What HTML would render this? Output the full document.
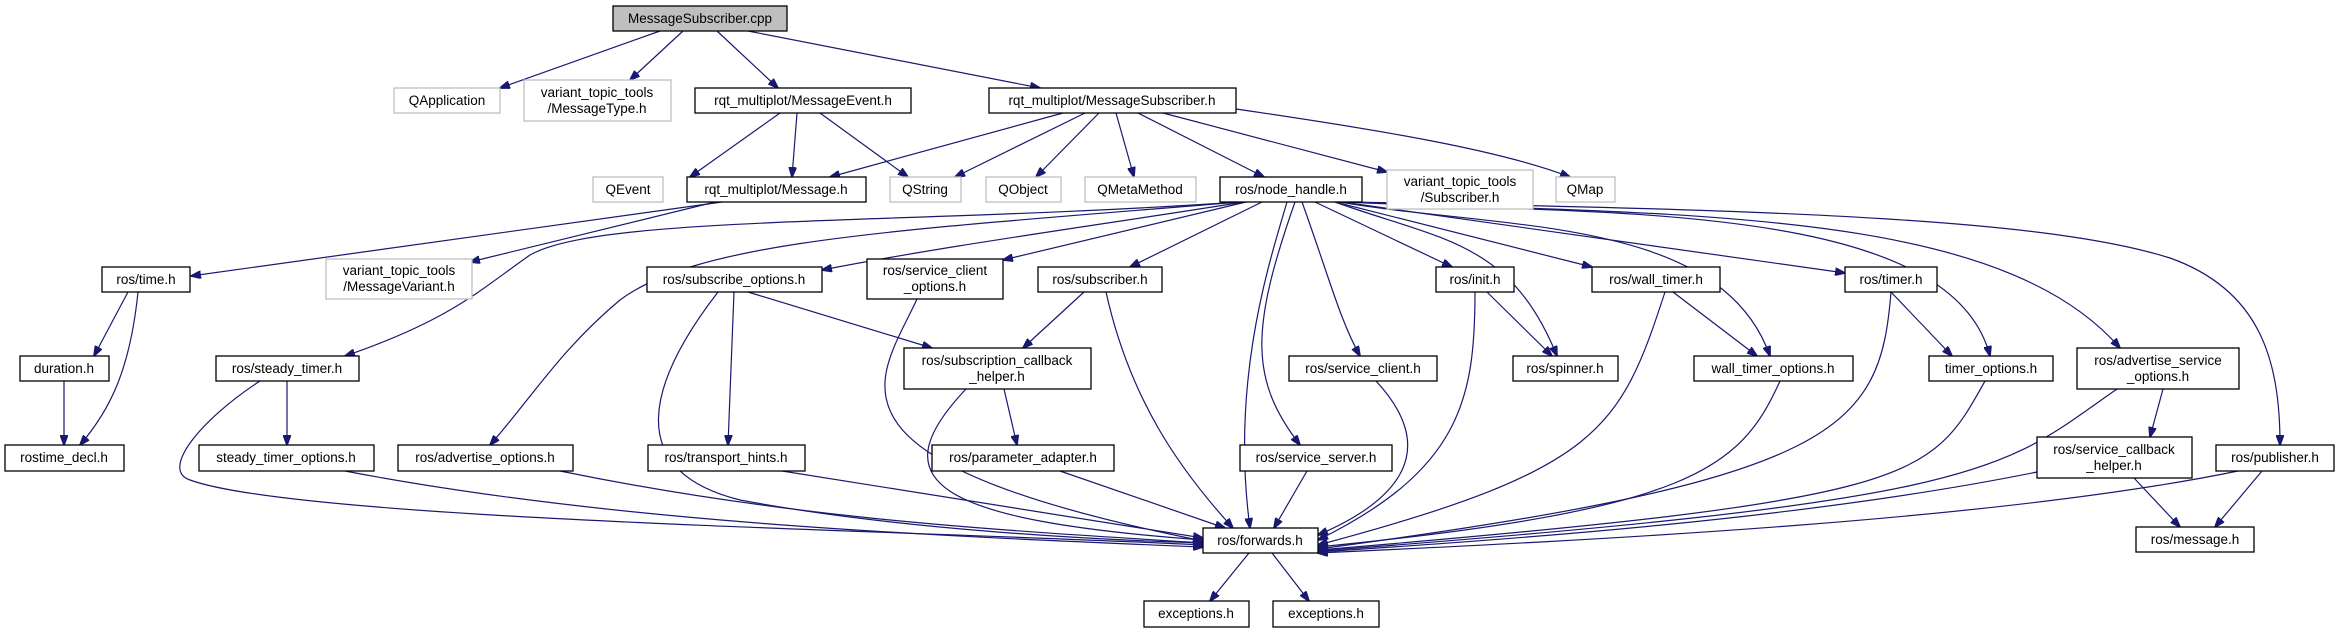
<!DOCTYPE html>
<html><head><meta charset="utf-8"><style>
html,body{margin:0;padding:0;background:#fff;}
svg{display:block;}
text{font-family:"Liberation Sans","DejaVu Sans",sans-serif;font-size:13.5px;fill:#000;text-anchor:middle;}
.n{fill:#fff;stroke:#000;stroke-width:1.3;}
.g{fill:#fff;stroke:#bfbfbf;stroke-width:1.3;}
.e{fill:none;stroke:#191970;stroke-width:1.2;}
</style></head><body>
<svg width="2339" height="633" viewBox="0 0 2339 633" xmlns="http://www.w3.org/2000/svg">
<defs><marker id="a" markerWidth="11" markerHeight="8" refX="10" refY="4" orient="auto" markerUnits="userSpaceOnUse"><path d="M0,0 L11,4 L0,8 z" fill="#191970" stroke="#191970"/></marker></defs>
<g class="e" marker-end="url(#a)">
<path d="M660,31 L500,88"/>
<path d="M683,31 L630,80"/>
<path d="M717,31 L778,88"/>
<path d="M748,31 L1040,88"/>
<path d="M780,113 L690,177"/>
<path d="M797,113 L792,177"/>
<path d="M820,113 L908,177"/>
<path d="M1063,113 L830,177"/>
<path d="M1085,113 L955,177"/>
<path d="M1099,113 L1036,177"/>
<path d="M1116,113 L1134,177"/>
<path d="M1138,113 L1264,177"/>
<path d="M1163,113 L1387,172"/>
<path d="M1236,109 C1380,130 1500,150 1570,177"/>
<path d="M722,202 L191,276"/>
<path d="M715,202 L470,262"/>
<path d="M1240,202 C900,225 600,215 530,255 C480,290 450,320 345,356"/>
<path d="M1240,202 C900,230 700,240 620,300 C560,350 530,400 490,445"/>
<path d="M1244,202 C1100,225 950,245 822,270"/>
<path d="M1246,202 L1003,260"/>
<path d="M1262,202 L1130,267"/>
<path d="M1287,202 C1270,260 1230,380 1250,528"/>
<path d="M1295,202 C1250,330 1250,380 1300,445"/>
<path d="M1302,202 C1330,280 1340,320 1360,356"/>
<path d="M1315,202 L1452,267"/>
<path d="M1335,202 C1440,240 1510,240 1557,356"/>
<path d="M1335,202 L1592,267"/>
<path d="M1340,202 C1500,230 1720,215 1770,356"/>
<path d="M1342,202 L1845,273"/>
<path d="M1346,202 C1600,215 1950,200 1990,356"/>
<path d="M1348,202 C1700,215 2000,210 2120,348"/>
<path d="M1350,202 C1800,210 2050,220 2170,258 C2260,290 2280,360 2280,445"/>
<path d="M128,292 L94,356"/>
<path d="M138,292 C130,370 110,410 80,445"/>
<path d="M64,381 L64,445"/>
<path d="M287,381 L287,445"/>
<path d="M260,381 C200,420 160,470 190,480 C300,520 900,530 1203,545"/>
<path d="M748,292 L932,348"/>
<path d="M734,292 L728,445"/>
<path d="M718,292 C650,380 620,470 740,500 C900,530 1100,540 1203,543"/>
<path d="M917,299 C880,380 800,460 1203,541"/>
<path d="M1084,292 L1023,348"/>
<path d="M1106,292 C1130,400 1180,470 1233,528"/>
<path d="M1004,389 L1017,445"/>
<path d="M966,389 C880,480 930,520 1203,540"/>
<path d="M1060,471 L1225,528"/>
<path d="M782,471 L1203,538"/>
<path d="M560,471 C800,520 1000,530 1203,543"/>
<path d="M345,471 C600,520 900,535 1203,547"/>
<path d="M1307,471 L1274,528"/>
<path d="M1376,381 C1440,450 1400,500 1318,535"/>
<path d="M1475,292 C1475,400 1460,470 1318,540"/>
<path d="M1487,292 L1552,356"/>
<path d="M1673,292 L1757,356"/>
<path d="M1665,292 C1620,430 1600,470 1318,545"/>
<path d="M1780,381 C1740,470 1690,510 1318,547"/>
<path d="M1891,292 L1952,356"/>
<path d="M1891,292 C1880,430 1840,480 1318,549"/>
<path d="M1985,381 C1930,480 1920,500 1318,550"/>
<path d="M2117,389 C2000,470 2000,500 1318,551"/>
<path d="M2163,389 L2150,437"/>
<path d="M2037,472 C1800,520 1500,540 1318,552"/>
<path d="M2134,478 L2180,527"/>
<path d="M2262,471 L2215,527"/>
<path d="M2238,471 C2000,520 1600,540 1318,553"/>
<path d="M1249,553 L1210,601"/>
<path d="M1272,553 L1309,601"/>
</g>
<rect x="613" y="6" width="174" height="25" fill="#bfbfbf" stroke="#000" stroke-width="1.3"/><text x="700" y="23">MessageSubscriber.cpp</text>
<rect class="g" x="394" y="88" width="106" height="25"/><text x="447" y="105">QApplication</text>
<rect class="g" x="524" y="80" width="147" height="41"/><text x="597" y="97">variant_topic_tools</text><text x="597" y="113">/MessageType.h</text>
<rect class="n" x="695" y="88" width="216" height="25"/><text x="803" y="105">rqt_multiplot/MessageEvent.h</text>
<rect class="n" x="989" y="88" width="247" height="25"/><text x="1112" y="105">rqt_multiplot/MessageSubscriber.h</text>
<rect class="g" x="593" y="177" width="70" height="25"/><text x="628" y="194">QEvent</text>
<rect class="n" x="687" y="177" width="179" height="25"/><text x="776" y="194">rqt_multiplot/Message.h</text>
<rect class="g" x="890" y="177" width="71" height="25"/><text x="925" y="194">QString</text>
<rect class="g" x="986" y="177" width="75" height="25"/><text x="1023" y="194">QObject</text>
<rect class="g" x="1085" y="177" width="111" height="25"/><text x="1140" y="194">QMetaMethod</text>
<rect class="n" x="1220" y="177" width="142" height="25"/><text x="1291" y="194">ros/node_handle.h</text>
<rect class="g" x="1387" y="170" width="146" height="39"/><text x="1460" y="186">variant_topic_tools</text><text x="1460" y="202">/Subscriber.h</text>
<rect class="g" x="1556" y="177" width="59" height="25"/><text x="1585" y="194">QMap</text>
<rect class="n" x="102" y="267" width="88" height="25"/><text x="146" y="284">ros/time.h</text>
<rect class="g" x="326" y="259" width="146" height="40"/><text x="399" y="275">variant_topic_tools</text><text x="399" y="291">/MessageVariant.h</text>
<rect class="n" x="647" y="267" width="175" height="25"/><text x="734" y="284">ros/subscribe_options.h</text>
<rect class="n" x="867" y="259" width="136" height="40"/><text x="935" y="275">ros/service_client</text><text x="935" y="291">_options.h</text>
<rect class="n" x="1038" y="267" width="124" height="25"/><text x="1100" y="284">ros/subscriber.h</text>
<rect class="n" x="1436" y="267" width="78" height="25"/><text x="1475" y="284">ros/init.h</text>
<rect class="n" x="1592" y="267" width="128" height="25"/><text x="1656" y="284">ros/wall_timer.h</text>
<rect class="n" x="1845" y="267" width="92" height="25"/><text x="1891" y="284">ros/timer.h</text>
<rect class="n" x="20" y="356" width="89" height="25"/><text x="64" y="373">duration.h</text>
<rect class="n" x="216" y="356" width="143" height="25"/><text x="287" y="373">ros/steady_timer.h</text>
<rect class="n" x="904" y="348" width="187" height="41"/><text x="997" y="365">ros/subscription_callback</text><text x="997" y="381">_helper.h</text>
<rect class="n" x="1289" y="356" width="148" height="25"/><text x="1363" y="373">ros/service_client.h</text>
<rect class="n" x="1513" y="356" width="105" height="25"/><text x="1565" y="373">ros/spinner.h</text>
<rect class="n" x="1694" y="356" width="159" height="25"/><text x="1773" y="373">wall_timer_options.h</text>
<rect class="n" x="1929" y="356" width="124" height="25"/><text x="1991" y="373">timer_options.h</text>
<rect class="n" x="2077" y="348" width="162" height="41"/><text x="2158" y="365">ros/advertise_service</text><text x="2158" y="381">_options.h</text>
<rect class="n" x="5" y="445" width="119" height="26"/><text x="64" y="462">rostime_decl.h</text>
<rect class="n" x="199" y="445" width="175" height="26"/><text x="286" y="462">steady_timer_options.h</text>
<rect class="n" x="398" y="445" width="175" height="26"/><text x="485" y="462">ros/advertise_options.h</text>
<rect class="n" x="648" y="445" width="157" height="26"/><text x="726" y="462">ros/transport_hints.h</text>
<rect class="n" x="932" y="445" width="182" height="26"/><text x="1023" y="462">ros/parameter_adapter.h</text>
<rect class="n" x="1240" y="445" width="152" height="26"/><text x="1316" y="462">ros/service_server.h</text>
<rect class="n" x="2037" y="437" width="155" height="41"/><text x="2114" y="454">ros/service_callback</text><text x="2114" y="470">_helper.h</text>
<rect class="n" x="2216" y="445" width="118" height="26"/><text x="2275" y="462">ros/publisher.h</text>
<rect class="n" x="1203" y="528" width="115" height="25"/><text x="1260" y="545">ros/forwards.h</text>
<rect class="n" x="2136" y="527" width="118" height="25"/><text x="2195" y="544">ros/message.h</text>
<rect class="n" x="1144" y="601" width="105" height="26"/><text x="1196" y="618">exceptions.h</text>
<rect class="n" x="1273" y="601" width="106" height="26"/><text x="1326" y="618">exceptions.h</text>
</svg>
</body></html>
